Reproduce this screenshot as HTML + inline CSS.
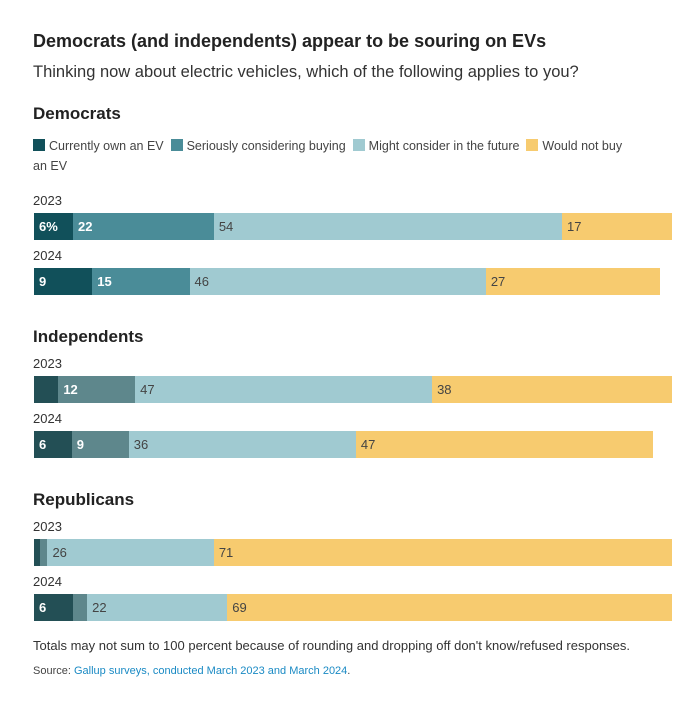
<!DOCTYPE html>
<html><head><meta charset="utf-8"><style>
body{margin:0;width:697px;height:703px;background:#fff;font-family:"Liberation Sans",sans-serif;color:#222;position:relative;overflow:hidden}
.t{position:absolute;white-space:nowrap}
.lg{display:inline-block;width:12px;height:12px;vertical-align:-1px;margin-right:4px}
</style></head><body>
<div class="t" style="left:33px;top:31px;font-size:18px;font-weight:bold;color:#222">Democrats (and independents) appear to be souring on EVs</div>
<div class="t" style="left:33px;top:63px;font-size:16.5px;color:#333">Thinking now about electric vehicles, which of the following applies to you?</div>
<div class="t" style="left:33px;top:136px;font-size:12.5px;color:#444;line-height:20px;width:640px">
<span><span class="lg" style="background:#11505a"></span>Currently own an EV</span>&nbsp;
<span><span class="lg" style="background:#4a8c98"></span>Seriously considering buying</span>&nbsp;
<span><span class="lg" style="background:#a0cad1"></span>Might consider in the future</span>&nbsp;
<span><span class="lg" style="background:#f7cb6f"></span>Would not buy<br>an EV</span></div>
<div id="chart"></div>
<div class="t" style="left:33px;top:638px;font-size:13px;color:#333">Totals may not sum to 100 percent because of rounding and dropping off don't know/refused responses.</div>
<div class="t" style="left:33px;top:665px;font-size:11px;color:#444">Source: <span style="color:#1a8ac4">Gallup surveys, conducted March 2023 and March 2024</span>.</div>
<script>
const groups=["Democrats","Independents","Republicans"];
const years=["2023","2024"];
const demValues=[[6.1,22,54.4,17.2],[9.1,15.2,46.3,27.2]];
const indValues=[[3.8,12,46.4,37.5],[5.9,8.9,35.5,46.4]];
const repValues=[[1,1.1,26,71.6],[6.1,2.2,21.9,69.5]];
const demLabels=[["6%","22","54","17"],["9","15","46","27"]];
const indLabels=[["","12","47","38"],["6","9","36","47"]];
const repLabels=[["","","26","71"],["6","","22","69"]];
const allValues=[demValues,indValues,repValues];
const allLabels=[demLabels,indLabels,repLabels];
const palettes=[["#11505a","#4a8c98","#a0cad1","#f7cb6f"],["#234f55","#5e878c","#a0cad1","#f7cb6f"],["#234f55","#5e878c","#a0cad1","#f7cb6f"]];
const x0=34,xMax=672,scale=6.4;
const xs=v=>v*scale;
const groupTop=[104,327,490];
const c=document.getElementById('chart');
groups.forEach((g,gi)=>{
  const h=document.createElement('div');
  h.className='t';
  
  
  h.style.cssText=`left:33px;top:${groupTop[gi]}px;font-size:17px;font-weight:bold;color:#222`;
  h.textContent=g;c.appendChild(h);
  const off=gi==0?0:-60;
  years.forEach((y,yi)=>{
    const ly=groupTop[gi]+off+89+yi*55;
    const yl=document.createElement('div');
    yl.className='t';
    
    
    yl.style.cssText=`left:33px;top:${ly}px;font-size:13px;color:#333`;
    yl.textContent=y;c.appendChild(yl);
    let x=x0;
    allValues[gi][yi].forEach((v,si)=>{
      let w=xs(v);if(x+w>xMax)w=xMax-x;
      const b=document.createElement('div');
      b.className='t';
      
      
      const dark=si<2;
      b.style.cssText=`left:${x}px;top:${ly+20}px;width:${w}px;height:27px;background:${palettes[gi][si]};font-size:13px;line-height:27px;overflow:hidden;color:${dark?'#fff':'#444'};font-weight:${dark?'bold':'normal'};box-sizing:border-box;padding-left:5px`;
      b.textContent=allLabels[gi][yi][si];
      c.appendChild(b);x+=w;
    });
  });
});
</script>
</body></html>
